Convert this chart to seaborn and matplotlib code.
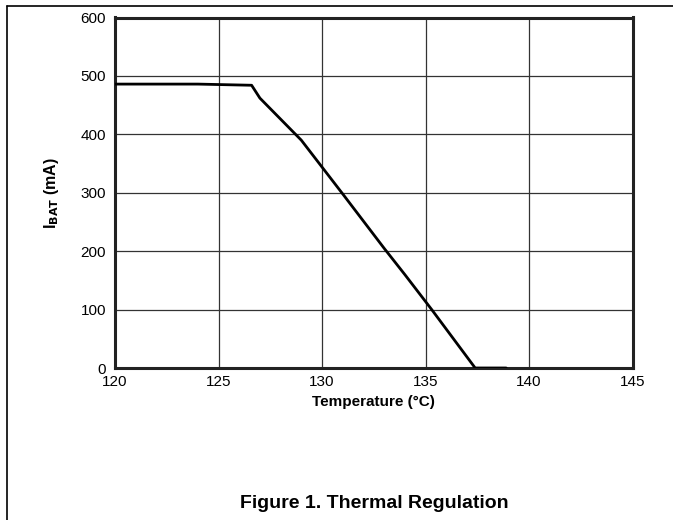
import matplotlib
matplotlib.use("Agg")
import matplotlib.pyplot as plt
import seaborn as sns
import pandas as pd
from matplotlib.lines import Line2D

temperature = [120.0, 124.0, 126.6, 127.0, 129.0, 131.0, 133.0, 134.0, 135.3, 137.4, 138.9]
ibat_ma = [486, 486, 484, 462, 390, 298, 205, 160, 100, 0, 0]
x_ticks = [120, 125, 130, 135, 140, 145]
y_ticks = [0, 100, 200, 300, 400, 500, 600]

sns.set_theme(style="white")
plt.rcParams['font.family'] = ['Liberation Sans', 'DejaVu Sans']

df = pd.DataFrame({"T": temperature, "I": ibat_ma})

fig = plt.figure(figsize=(6.73, 5.2), dpi=100)
ax = fig.add_axes([115 / 673, 1 - 368 / 520, (632.5 - 115) / 673, (368 - 17.5) / 520])

sns.lineplot(data=df, x="T", y="I", ax=ax, color="black", linewidth=2.0, zorder=5)

ax.set_xlim(120, 145)
ax.set_ylim(0, 600)
ax.set_xticks(x_ticks)
ax.set_yticks(y_ticks)
ax.set_xticklabels([str(t) for t in x_ticks])
ax.set_yticklabels([str(t) for t in y_ticks])
ax.grid(True, color="#333333", linewidth=0.9)
ax.tick_params(axis="both", which="both", length=0, labelsize=11, colors="black")
ax.tick_params(axis="x", pad=5)
ax.tick_params(axis="y", pad=6.5)
for s in ax.spines.values():
    s.set_color("#222222")
    s.set_linewidth(2.2)

ax.set_xlabel("Temperature (°C)", fontsize=11, fontweight="bold", color="black", labelpad=4)
ax.set_ylabel(r"I$_{\mathbf{BAT}}$ (mA)", fontsize=11.5, fontweight="bold", color="black", labelpad=14)

fig.text(374 / 673, 1 - 503 / 520, "Figure 1. Thermal Regulation",
         ha="center", va="center", fontsize=14, fontweight="bold", color="black")

fig.add_artist(Line2D([7 / 673, 7 / 673], [0, 1 - 6 / 520], color="black", linewidth=1.2,
                      transform=fig.transFigure))
fig.add_artist(Line2D([7 / 673, 1], [1 - 6 / 520, 1 - 6 / 520], color="black", linewidth=1.2,
                      transform=fig.transFigure))

fig.savefig("out.png", dpi=100)
